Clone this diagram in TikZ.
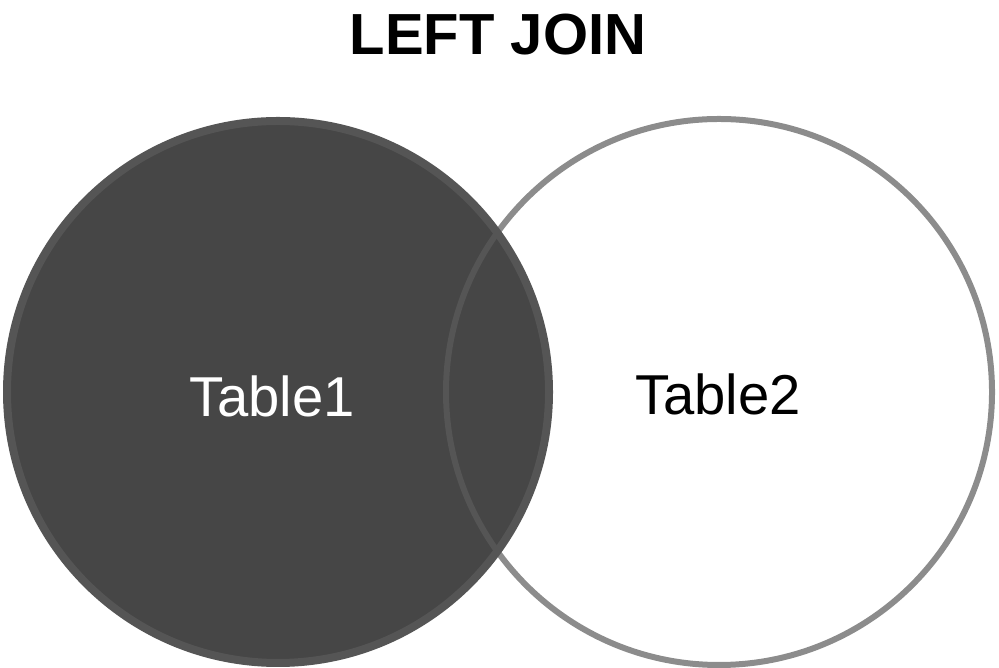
\documentclass[tikz,border=0pt]{standalone}
\usepackage{fontspec}
\setmainfont{Liberation Sans}
\usetikzlibrary{positioning}
\definecolor{setfill}{RGB}{70,70,70}
\definecolor{setedge}{RGB}{85,85,85}
\definecolor{ringgray}{RGB}{140,140,140}
\tikzset{
  title/.style={anchor=base,font=\fontsize{33}{36}\selectfont\bfseries,text=black},
  setlabel/.style={anchor=base,font=\fontsize{32}{36}\selectfont,text=#1},
  setlabel/.default=black,
  left set/.style={fill=setfill,draw=setedge,line width=0.16cm},
  right set/.style={draw=#1,line width=0.12cm},
  right set/.default=ringgray,
}
\begin{document}
\begin{tikzpicture}[x=0.02cm,y=0.02cm]
  \useasboundingbox (0,0) rectangle (999,668);
  \coordinate (c1) at (278,276);
  \coordinate (c2) at (719,276);
  % right table first, left one covers it
  \draw[right set] (c2) circle (273);
  \fill[setfill] (c1) circle (271);
  \begin{scope}
    \clip (c1) circle (271);
    \draw[right set=setedge] (c2) circle (273);
  \end{scope}
  \draw[left set,fill=none] (c1) circle (271);
  \node[title] (head) at (498,613) {LEFT JOIN};
  \node[setlabel=white] (t1) at (272,251) {Table1};
  \node[setlabel] (t2) at (718,253) {Table2};
\end{tikzpicture}
\end{document}
